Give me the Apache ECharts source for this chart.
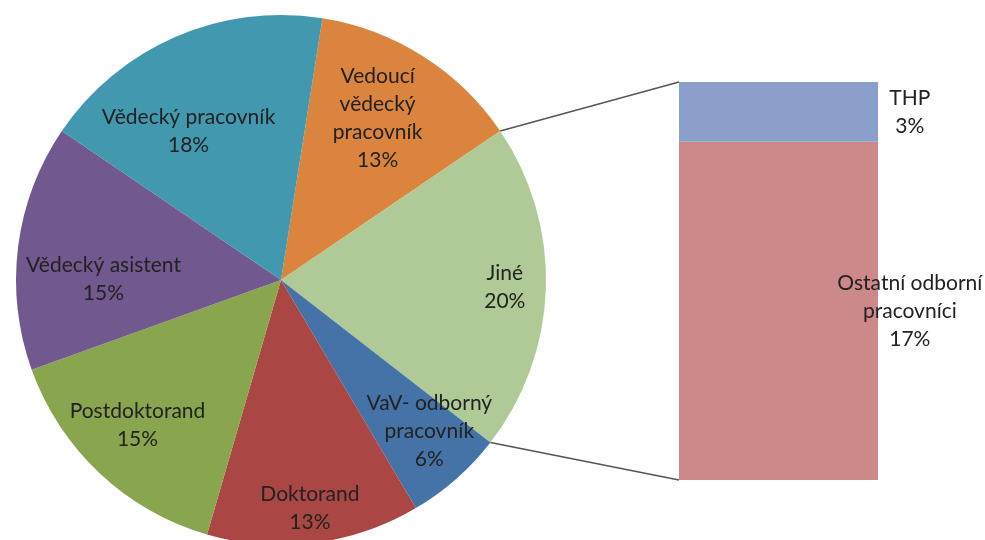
<!DOCTYPE html>
<html lang="cs">
<head>
<meta charset="UTF-8">
<title>Struktura pracovníků</title>
<script src="https://cdn.jsdelivr.net/npm/echarts@6/dist/echarts.min.js"></script>
<style>
    html, body { margin: 0; padding: 0; background: #fff; }
    #chart { width: 985px; height: 540px; }
</style>
</head>
<body>
<div id="chart"></div>
<script>
    // hlavní koláč (po směru hodinových ručiček)
    const pieNames = ['Vedoucí\nvědecký\npracovník', 'Jiné', 'VaV- odborný\npracovník', 'Doktorand',
        'Postdoktorand', 'Vědecký asistent', 'Vědecký pracovník'];
    const pieValues = [13, 20, 6, 13, 15, 15, 18];
    const pieColors = ['#DB843D', '#AFCA97', '#4572A7', '#AA4643', '#89A54E', '#71588F', '#4198AF'];

    // rozpad položky "Jiné"
    const barNames = ['Ostatní odborní\npracovníci', 'THP'];
    const barValues = [17, 3];
    const barColors = ['#CD898A', '#8AA0CB'];

    // umístění popisků: podíl poloměru a pootočení ve stupních
    const labelRadius = [0.71, 0.845, 0.8, 0.87, 0.77, 0.67, 0.66];
    const labelTurn = [-1.5, 0, -3, 0, 1.5, -7, -8.5];

    const cx = 281, cy = 280, R = 265;
    const startAngle = 81;
    const gridLeft = 679, gridTop = 82, gridW = 199, gridH = 398;
    const font = 'Lato';

    const total = pieValues.reduce((a, b) => a + b, 0);
    const barTotal = barValues.reduce((a, b) => a + b, 0);

    // úhel středu každé výseče, měřeno od 12 hodin po směru ručiček
    let midAngles = [];
    let acc = 0;
    pieValues.forEach(v => {
        midAngles.push(90 - startAngle + 360 * (acc + v / 2) / total);
        acc += v;
    });

    let chart = echarts.init(document.getElementById('chart'));

    let option = {
        animation: false,
        grid: {left: gridLeft, top: gridTop, width: gridW, height: gridH},
        xAxis: {type: 'category', data: [''], show: false},
        yAxis: {type: 'value', min: 0, max: barTotal, show: false},
        series: [{
            type: 'pie',
            center: [cx, cy],
            radius: R,
            startAngle: startAngle,
            clockwise: true,
            data: pieNames.map((n, i) => ({name: n, value: pieValues[i], itemStyle: {color: pieColors[i]}})),
            itemStyle: {borderWidth: 0},
            label: {
                position: 'inside',
                formatter: '{b}\n{c}%',
                fontFamily: font,
                fontSize: 21,
                lineHeight: 28,
                color: '#222'
            },
            labelLayout: function (p) {
                let i = p.dataIndex;
                let r = p.labelRect;
                let a = (midAngles[i] + labelTurn[i]) * Math.PI / 180;
                let d = labelRadius[i] * R;
                return {
                    dx: cx + d * Math.sin(a) - (r.x + r.width / 2),
                    dy: cy - d * Math.cos(a) - (r.y + r.height / 2)
                };
            },
            emphasis: {disabled: true}
        }].concat(barNames.map((n, i) => ({
            type: 'bar',
            name: n,
            stack: 'jine',
            barWidth: '100%',
            data: [barValues[i]],
            itemStyle: {color: barColors[i]},
            label: {
                show: true,
                position: ['116%', '50%'],
                align: 'center',
                verticalAlign: 'middle',
                formatter: n + '\n{c}%',
                fontFamily: font,
                fontSize: 21,
                lineHeight: 28,
                color: '#222'
            }
        })))
    };
    chart.setOption(option);

    // spojnice mezi výsečí "Jiné" a sloupcem
    let a0 = (90 - startAngle + 360 * pieValues[0] / total) * Math.PI / 180;
    let a1 = a0 + 360 * pieValues[1] / total * Math.PI / 180;
    let yTop = chart.convertToPixel({yAxisIndex: 0}, barTotal);
    let yBot = chart.convertToPixel({yAxisIndex: 0}, 0);
    let lineStyle = {stroke: '#555', lineWidth: 1.5};
    chart.setOption({
        graphic: [
            {type: 'line', shape: {x1: cx + R * Math.sin(a0), y1: cy - R * Math.cos(a0), x2: gridLeft, y2: yTop}, style: lineStyle},
            {type: 'line', shape: {x1: cx + R * Math.sin(a1), y1: cy - R * Math.cos(a1), x2: gridLeft, y2: yBot}, style: lineStyle}
        ]
    });
</script>
</body>
</html>
